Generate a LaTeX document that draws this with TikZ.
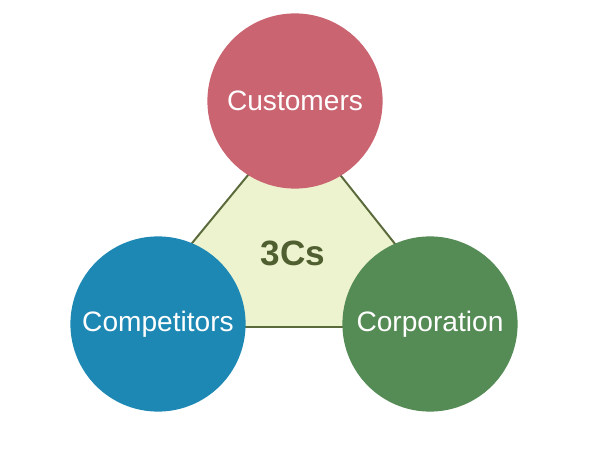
\documentclass[tikz,border=0pt]{standalone}
\usepackage{fontspec}
\setmainfont{Liberation Sans}
\usetikzlibrary{positioning}
\definecolor{custred}{HTML}{C96470}
\definecolor{compblue}{HTML}{1E88B4}
\definecolor{corpgreen}{HTML}{558B55}
\definecolor{trifill}{HTML}{EEF3CF}
\definecolor{triline}{HTML}{5A6A3A}
\definecolor{labelgreen}{HTML}{4F5F2F}

\begin{document}
\begin{tikzpicture}
  \tikzstyle{cnode}=[circle,draw=none,minimum size=4.38cm,inner sep=0pt,text=white,font=\fontsize{20}{24}\selectfont]
  \useasboundingbox (0,0) rectangle (15,11.25);

  \coordinate (T-1) at (3.075,3.075);
  \coordinate (T-2) at (11.525,3.075);
  \coordinate (T-3) at (7.375,8.3);
  \draw[triline,fill=trifill,line width=1.4pt] (T-1) -- (T-2) -- (T-3) -- cycle;
  \node[text=labelgreen,font=\bfseries\fontsize{25}{30}\selectfont] (center) at (7.325,4.925) {3Cs};

  \foreach \name/\pos/\col/\text in {cust/{(7.375,8.725)}/custred/Customers,
                                     comp/{(3.95,3.15)}/compblue/Competitors,
                                     corp/{(10.75,3.15)}/corpgreen/Corporation}
    \node[cnode,fill=\col] (\name) at \pos {\text};
\end{tikzpicture}
\end{document}
